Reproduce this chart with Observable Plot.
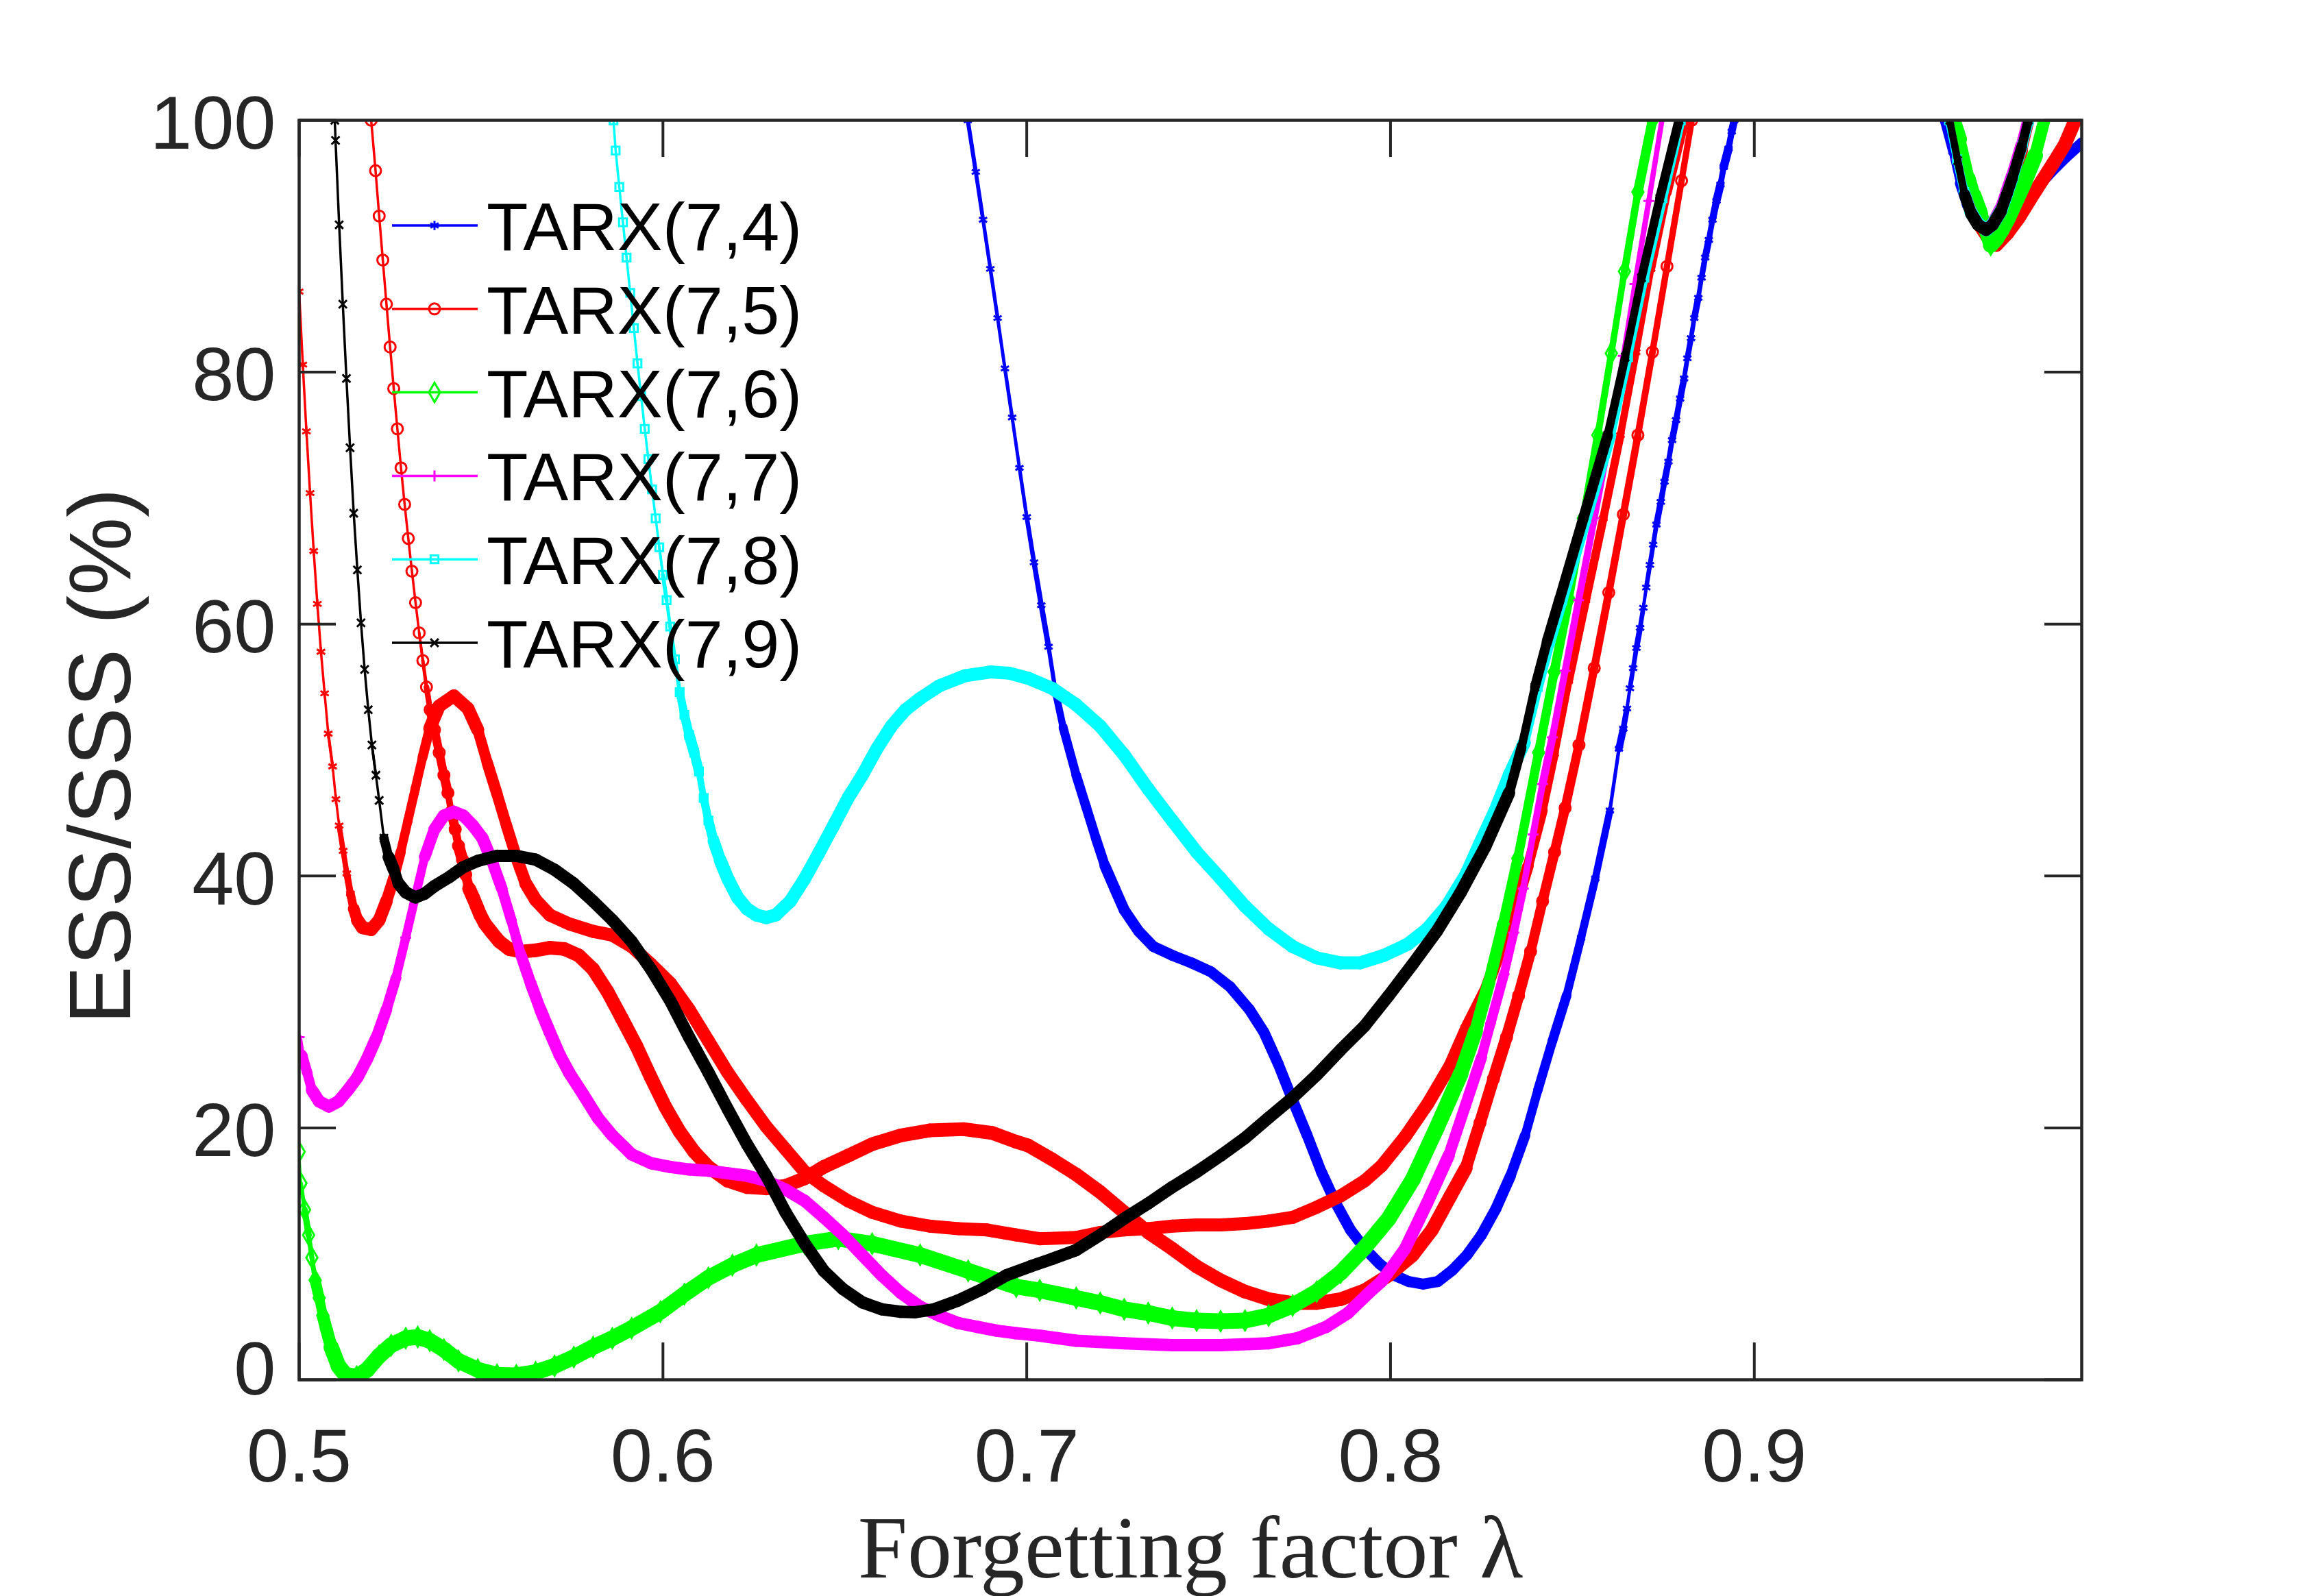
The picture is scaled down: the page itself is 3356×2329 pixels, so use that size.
<!DOCTYPE html>
<html>
<head>
<meta charset="utf-8">
<script src="https://cdn.jsdelivr.net/npm/d3@7"></script>
<script src="https://cdn.jsdelivr.net/npm/@observablehq/plot@0.6"></script>
<style>
html, body { margin: 0; padding: 0; background: #ffffff; }
#chart { width: 3356px; height: 2329px; }
</style>
</head>
<body>
<div id="chart"></div>
<script>
// ---------------- data: [λ, ESS/SSS %]; null = the curve leaves the axes (above 100 %) ----------------
const xTicks = [0.5, 0.6, 0.7, 0.8, 0.9];
const yTicks = [0, 20, 40, 60, 80, 100];

const tarx74 = [[0.6838,100],[0.686,95.9],[0.688,92.1],[0.690,88.2],[0.692,84.3],[0.694,80.3],[0.696,76.4],[0.698,72.4],[0.700,68.5],[0.702,64.9],[0.704,61.5],[0.706,58.2],[0.708,54.5],[0.710,51.8],[0.7136,48],[0.7163,45.5],[0.719,43],[0.7215,40.8],[0.7242,39],[0.7268,37.3],[0.7308,35.6],[0.7348,34.4],[0.740,33.7],[0.7453,33.1],[0.7506,32.4],[0.7559,31.2],[0.7612,29.4],[0.7652,27.6],[0.7691,25.1],[0.7731,22.2],[0.7771,19.4],[0.781,16.5],[0.785,14],[0.789,11.9],[0.793,10.4],[0.797,9.2],[0.801,8.3],[0.805,7.8],[0.809,7.6],[0.813,7.8],[0.817,8.7],[0.821,9.9],[0.825,11.5],[0.829,13.6],[0.833,16.2],[0.837,19.4],[0.8405,23],[0.8445,26.9],[0.8484,30.5],[0.8524,35.1],[0.8563,39.8],[0.8603,45.2],[0.8628,50.1],[0.864,51.7],[0.865,53.3],[0.8658,54.9],[0.8667,56.5],[0.8676,58.1],[0.8686,59.7],[0.8695,61.3],[0.8703,62.9],[0.8713,64.7],[0.8722,66.3],[0.8731,67.9],[0.8743,69.7],[0.8753,71.3],[0.8764,72.9],[0.8774,74.6],[0.8785,76.2],[0.8796,77.9],[0.8807,79.5],[0.8816,81.1],[0.8826,82.7],[0.8835,84.3],[0.8846,85.9],[0.8855,87.5],[0.8865,89.1],[0.8875,90.5],[0.8885,92.1],[0.8896,93.6],[0.8907,94.9],[0.8916,96.3],[0.8929,97.75],[0.8938,99.1],[0.8945,100],
  null,[0.9522,100],[0.9545,97.5],[0.9565,95],[0.9585,93.3],[0.9605,92.2],[0.963,91.3],[0.9655,90.7],[0.968,91.0],[0.9705,91.9],[0.9728,92.8],[0.9766,94.3],[0.9816,95.9],[0.9854,97.0],[0.99,98.2]];

const tarx75 = [[0.5198,100],[0.521,96],[0.522,92.4],[0.523,88.9],[0.524,85.4],[0.525,82],[0.526,78.7],[0.527,75.5],[0.528,72.4],[0.529,69.5],[0.530,66.8],[0.531,64.2],[0.532,61.7],[0.533,59.3],[0.534,57.1],[0.535,55],[0.536,53.2],[0.5372,51.6],[0.5385,49.8],[0.5398,48],[0.5409,46.6],[0.5418,45.1],[0.5429,43.7],[0.5438,42.4],[0.5449,41.3],[0.5458,40.1],[0.5467,39],[0.5478,38.3],[0.5488,37.6],[0.5498,36.9],[0.5511,36.2],[0.553,35.5],[0.555,34.8],[0.5577,34.2],[0.561,34.0],[0.565,34.1],[0.5689,34.3],[0.5729,34.2],[0.5768,33.7],[0.5808,32.6],[0.5848,30.8],[0.5887,28.7],[0.5927,26.5],[0.5967,24],[0.6006,21.7],[0.6046,19.7],[0.6086,18.1],[0.6125,16.9],[0.6178,15.8],[0.6231,15.3],[0.6284,15.2],[0.6337,15.4],[0.639,16],[0.6442,16.9],[0.6509,17.8],[0.6575,18.7],[0.6654,19.4],[0.6733,19.8],[0.6826,19.9],[0.6905,19.6],[0.6971,18.9],[0.7004,18.6],[0.707,17.5],[0.7136,16.3],[0.7202,14.9],[0.7268,13.3],[0.7334,11.7],[0.740,10.4],[0.7467,9.0],[0.7533,7.9],[0.760,7.0],[0.7665,6.4],[0.7731,6.1],[0.7797,6.1],[0.7863,6.4],[0.7929,7.1],[0.7995,8.3],[0.8061,9.9],[0.8114,11.9],[0.8165,14.6],[0.8207,16.8],[0.8246,20.4],[0.8283,23.9],[0.8319,27.2],[0.8352,30.5],[0.8385,34.0],[0.8418,38.0],[0.8451,41.9],[0.848,45.4],[0.8518,50.4],[0.856,56.5],[0.860,62.5],[0.864,68.7],[0.868,75.0],[0.872,81.6],[0.876,88.4],[0.880,95.2],[0.8828,100],
  null,[0.9542,100],[0.9562,97],[0.958,94.6],[0.9598,93],[0.9617,91.8],[0.964,90.8],[0.9665,90.1],[0.9695,91.0],[0.9728,92.3],[0.976,93.8],[0.9791,95.2],[0.9822,96.6],[0.9854,98.1],[0.9882,100]];

const tarx76 = [[0.500,18.1],[0.5005,15.6],[0.5015,13.5],[0.5026,11.5],[0.5035,9.7],[0.5044,7.9],[0.5055,6.5],[0.5065,5.1],[0.5075,4.0],[0.5088,2.6],[0.5108,1.1],[0.5127,0.4],[0.5158,0.25],[0.5187,0.8],[0.522,1.9],[0.5253,2.75],[0.5293,3.3],[0.5326,3.4],[0.5359,3.1],[0.5398,2.4],[0.5438,1.5],[0.5491,0.8],[0.5544,0.4],[0.5597,0.36],[0.565,0.6],[0.5702,1.1],[0.5755,1.8],[0.5808,2.6],[0.5861,3.3],[0.5914,4.1],[0.5993,5.4],[0.6059,6.8],[0.6125,8.1],[0.6191,9.1],[0.6257,9.9],[0.639,10.8],[0.6482,11.2],[0.6575,10.8],[0.6707,9.9],[0.6839,8.65],[0.6971,7.4],[0.7036,7.1],[0.7136,6.5],[0.7202,6.1],[0.7268,5.6],[0.7334,5.3],[0.740,4.9],[0.7467,4.7],[0.7533,4.65],[0.760,4.7],[0.7665,5.1],[0.7731,5.9],[0.7797,7.0],[0.7863,8.5],[0.7929,10.5],[0.7995,12.8],[0.8061,15.9],[0.8127,20.0],[0.8193,24.3],[0.8234,27.7],[0.827,31.5],[0.831,36.2],[0.835,41.4],[0.8407,49.8],[0.845,56.2],[0.849,62.0],[0.853,68.4],[0.857,75],[0.8607,81.5],[0.8643,88.0],[0.868,94.3],[0.872,100],
  null,[0.9548,100],[0.9565,98.5],[0.959,95.4],[0.9603,94.1],[0.9622,92.6],[0.9636,91.3],[0.965,90.1],[0.9665,90.6],[0.968,91.3],[0.9697,92.2],[0.9741,95.0],[0.9772,97.2],[0.9797,100]];

const tarx77 = [[0.500,27.2],[0.5008,25.8],[0.5022,24.4],[0.5035,23],[0.5055,22.1],[0.5082,21.7],[0.5108,22.1],[0.5134,23],[0.516,24],[0.5187,25.5],[0.5213,27.2],[0.524,29.4],[0.5266,31.9],[0.5293,35.1],[0.5319,38.3],[0.5345,41.5],[0.5372,43.7],[0.5398,44.8],[0.5425,45.1],[0.5451,44.8],[0.5478,44],[0.5504,43],[0.553,41.2],[0.5557,39],[0.5583,36.5],[0.561,33.7],[0.5636,31.5],[0.5663,29.4],[0.5689,27.6],[0.5716,25.8],[0.5742,24.4],[0.5782,22.6],[0.5821,20.8],[0.5861,19.4],[0.5914,17.9],[0.5967,17.2],[0.602,16.9],[0.6072,16.7],[0.6125,16.6],[0.6178,16.4],[0.6231,16.2],[0.6284,15.8],[0.6337,15.1],[0.639,14.2],[0.6442,12.9],[0.6495,11.5],[0.6548,9.9],[0.6601,8.3],[0.6654,6.9],[0.6707,5.8],[0.6759,5.1],[0.6812,4.5],[0.6865,4.2],[0.6918,3.9],[0.6971,3.7],[0.7036,3.5],[0.7136,3.1],[0.7268,2.9],[0.740,2.75],[0.7533,2.75],[0.7665,2.9],[0.7744,3.3],[0.7823,4.2],[0.7883,5.3],[0.794,6.9],[0.7975,7.8],[0.804,10.4],[0.810,14.0],[0.816,17.8],[0.8205,21.7],[0.825,25.6],[0.8275,28.3],[0.8312,32.2],[0.8339,35.5],[0.8365,39],[0.8392,43.3],[0.8418,47.3],[0.8445,51.0],[0.848,56.3],[0.8517,61.9],[0.856,68.4],[0.8603,75],[0.864,81.3],[0.8672,87.0],[0.871,93.6],[0.8746,100],
  null,[0.9536,100],[0.9557,96.9],[0.9577,94.3],[0.9595,92.8],[0.9614,91.8],[0.9636,91.3],[0.9655,91.8],[0.9677,93.0],[0.9693,94.4],[0.9707,95.6],[0.9732,98.0],[0.975,100]];

const tarx78 = [[0.5864,100],[0.587,97.6],[0.588,94.7],[0.589,91.9],[0.590,89.1],[0.591,86.3],[0.592,83.5],[0.593,80.7],[0.594,78.1],[0.595,75.5],[0.596,73.1],[0.597,70.7],[0.598,68.4],[0.599,66.1],[0.600,63.9],[0.601,61.9],[0.602,59.8],[0.6033,57.2],[0.6046,54.6],[0.6059,52.8],[0.6072,51.2],[0.6086,49.8],[0.6099,48.3],[0.6112,46.2],[0.6125,44.4],[0.6139,42.8],[0.6158,41.2],[0.6178,39.8],[0.6205,38.3],[0.6231,37.4],[0.6257,36.9],[0.6284,36.7],[0.631,36.9],[0.635,38],[0.639,39.8],[0.643,41.9],[0.6469,44],[0.6509,46.2],[0.6548,48],[0.6588,50.1],[0.6628,51.9],[0.6667,53.2],[0.6707,54.1],[0.676,55.1],[0.683,55.9],[0.690,56.2],[0.6952,56.1],[0.7004,55.7],[0.707,54.9],[0.7136,53.6],[0.7202,51.9],[0.7268,49.6],[0.7334,46.9],[0.740,44.4],[0.7467,41.9],[0.7533,39.8],[0.760,37.6],[0.7665,35.8],[0.7731,34.4],[0.7797,33.5],[0.7863,33.1],[0.7916,33.1],[0.7982,33.7],[0.8048,34.6],[0.8101,35.8],[0.8154,37.6],[0.8207,40.1],[0.8246,42.6],[0.8286,45.1],[0.8326,48],[0.8368,50.6],[0.8405,55],[0.8438,58.6],[0.8472,61.9],[0.8538,68.4],[0.8605,75],[0.8653,81.2],[0.8698,87.5],[0.8748,93.8],[0.8798,100],
  null,[0.9535,100],[0.9557,96.9],[0.9577,94.3],[0.9595,92.7],[0.9615,91.8],[0.9638,91.3],[0.9657,91.8],[0.968,92.9],[0.9697,94.3],[0.9711,95.5],[0.9737,98.0],[0.9755,100]];

const tarx79 = [[0.5098,100],[0.510,98.4],[0.511,91.7],[0.512,85.4],[0.513,79.5],[0.514,74],[0.515,68.8],[0.516,64.3],[0.517,60.1],[0.518,56.4],[0.519,53.2],[0.520,50.4],[0.5211,48],[0.522,46],[0.5233,43],[0.5246,41.5],[0.526,40.5],[0.5273,39.4],[0.5293,38.7],[0.5319,38.3],[0.5345,38.6],[0.5372,39.2],[0.5412,39.9],[0.5451,40.7],[0.5491,41.2],[0.5544,41.6],[0.5597,41.6],[0.565,41.3],[0.5702,40.5],[0.5755,39.4],[0.5808,38],[0.5861,36.5],[0.5914,34.8],[0.5967,32.6],[0.602,30.1],[0.6072,27.2],[0.6125,24.4],[0.6178,21.5],[0.6231,18.7],[0.6284,16.2],[0.6337,13.3],[0.639,10.8],[0.6442,8.65],[0.6495,7.2],[0.6548,6.15],[0.6601,5.6],[0.6654,5.4],[0.6693,5.36],[0.6746,5.6],[0.6812,6.3],[0.6878,7.2],[0.6944,8.3],[0.701,9.0],[0.707,9.6],[0.7136,10.3],[0.7202,11.5],[0.7268,12.8],[0.7334,14],[0.740,15.3],[0.7467,16.5],[0.7533,17.8],[0.760,19.2],[0.7665,20.8],[0.7731,22.4],[0.7797,24.2],[0.7863,26.2],[0.7929,28.1],[0.7995,30.5],[0.8061,33],[0.8127,35.6],[0.8193,38.7],[0.826,42.3],[0.8326,46.6],[0.836,50.2],[0.8397,55],[0.843,58.6],[0.8464,61.9],[0.853,68.4],[0.8597,75],[0.8645,81.2],[0.869,87.5],[0.874,93.8],[0.8793,100],
  null,[0.9537,100],[0.9559,96.8],[0.9578,94.1],[0.9596,92.6],[0.9615,91.7],[0.9637,91.3],[0.9655,91.7],[0.9678,92.8],[0.9695,94.2],[0.9709,95.4],[0.9735,97.9],[0.9753,100]];

// red asterisk curve (in the figure, not listed in its legend)
const tarxRedStar = [[0.500,86.4],[0.501,80.6],[0.502,75.3],[0.503,70.4],[0.504,65.8],[0.505,61.6],[0.506,57.8],[0.507,54.5],[0.508,51.3],[0.5092,48.7],[0.5101,46.1],[0.511,44],[0.5121,42],[0.5131,40.2],[0.5141,38.6],[0.515,37.4],[0.516,36.5],[0.5174,35.9],[0.5198,35.75],[0.522,36.5],[0.524,38],[0.526,39.8],[0.5279,41.9],[0.5299,44.4],[0.5319,46.9],[0.5339,49.4],[0.5359,51.7],[0.5385,53.5],[0.5425,54.3],[0.5464,53.3],[0.5491,51.6],[0.5517,49],[0.5544,46.5],[0.557,44],[0.5597,41.5],[0.5623,39.4],[0.565,38.1],[0.5689,36.9],[0.5742,36.2],[0.5808,35.6],[0.5861,35.3],[0.5914,34.4],[0.5967,33],[0.602,31.5],[0.6072,29.4],[0.6125,26.9],[0.6178,24.4],[0.6231,22.2],[0.6284,20.1],[0.6337,18.3],[0.639,16.5],[0.6442,15.4],[0.6509,14.2],[0.6575,13.3],[0.6654,12.6],[0.6733,12.2],[0.6812,12.0],[0.6891,11.9],[0.6971,11.5],[0.7036,11.2],[0.7136,11.3],[0.7202,11.7],[0.7268,11.9],[0.7334,12.0],[0.740,12.2],[0.7467,12.3],[0.7533,12.3],[0.760,12.4],[0.7665,12.6],[0.7731,12.9],[0.7797,13.7],[0.7863,14.6],[0.7929,15.8],[0.7976,17.0],[0.804,19.3],[0.8102,21.9],[0.8165,25.0],[0.8209,27.9],[0.826,30.8],[0.830,34],[0.834,37.3],[0.8378,40.8],[0.8418,45.2],[0.8451,49.7],[0.849,55.5],[0.8537,61.9],[0.8585,68.4],[0.8632,75],[0.8675,81.6],[0.8716,88.2],[0.876,94.3],[0.8808,100],
  null,[0.954,100],[0.9561,96.8],[0.958,94.2],[0.9598,92.7],[0.9617,91.8],[0.9638,91.3],[0.9657,91.6],[0.968,92.6],[0.9697,93.9],[0.9712,95.2],[0.9737,97.6],[0.9757,100]];

const legendNames = ["TARX(7,4)", "TARX(7,5)", "TARX(7,6)", "TARX(7,7)", "TARX(7,8)", "TARX(7,9)"];

// ---------------- styling ----------------
// band = width of the ribbon that MATLAB's per-sample markers form where the curve is flat
const series = [
  {name: "TARX(7,4)", data: tarx74, color: "#0000ff", symbol: "asterisk", r: 6.4, band: 16},
  {name: "TARX(7,5)", data: tarx75, color: "#ff0000", symbol: "circle",   r: 8.0, band: 20},
  {name: "TARX(7,6)", data: tarx76, color: "#00ff00", symbol: "diamond",  r: 8.6, band: 23},
  {name: "TARX(7,7)", data: tarx77, color: "#ff00ff", symbol: "plus",     r: 5.2, band: 18},
  {name: "TARX(7,8)", data: tarx78, color: "#00ffff", symbol: "square2",  r: 7.2, band: 19},
  {name: "TARX(7,9)", data: tarx79, color: "#000000", symbol: "times",    r: 5.4, band: 18},
  {name: null,        data: tarxRedStar, color: "#ff0000", symbol: "asterisk", r: 6.6, band: 19}
];
const drawOrder = [0, 6, 1, 2, 3, 4, 5];

const W = 3356, H = 2329;
const mL = 436, mR = 319, mT = 175, mB = 316;
const pw = W - mL - mR, ph = H - mT - mB;
const axisColor = "#262626";
const tickLen = 54;
const slopeFull = 700;   // |dESS/dλ| below which the markers merge into a full ribbon
const slopeThin = 2200;  // above this only the thin line and the markers remain
const sans = "Liberation Sans, Arial, Helvetica, sans-serif";
const serif = "Liberation Serif, Times New Roman, serif";

function toRows(data) {
  return data.map(p => p ? {lambda: p[0], ess: p[1]} : {lambda: NaN, ess: NaN});
}
// ribbon pieces between consecutive samples, narrowing as the markers spread apart
function ribbon(rows, band) {
  const out = [];
  for (let i = 0; i + 1 < rows.length; i++) {
    const a = rows[i], b = rows[i + 1];
    if (!isFinite(a.ess) || !isFinite(b.ess)) continue;
    const k = Math.abs((b.ess - a.ess) / (b.lambda - a.lambda));
    if (k >= slopeThin) continue;
    const f = k <= slopeFull ? 1 : 1 - 0.8 * (k - slopeFull) / (slopeThin - slopeFull);
    out.push({l1: a.lambda, e1: a.ess, l2: b.lambda, e2: b.ess, w: band * f});
  }
  return out;
}

const marks = [];
for (const k of drawOrder) {
  const s = series[k];
  const rows = toRows(s.data);
  marks.push(Plot.link(ribbon(rows, s.band), {x1: "l1", y1: "e1", x2: "l2", y2: "e2", stroke: s.color, strokeWidth: "w", strokeLinecap: "round", clip: true}));
  marks.push(Plot.line(rows, {x: "lambda", y: "ess", stroke: s.color, strokeWidth: 3.5, clip: true}));
  marks.push(Plot.dot(rows, {x: "lambda", y: "ess", symbol: s.symbol, r: s.r, stroke: s.color, fill: "none", strokeWidth: 3, clip: true}));
}

// inward ticks on all four sides (box on)
marks.push(Plot.tickX(xTicks, {x: d => d, stroke: axisColor, strokeWidth: 4, insetTop: ph - tickLen}));
marks.push(Plot.tickX(xTicks, {x: d => d, stroke: axisColor, strokeWidth: 4, insetBottom: ph - tickLen}));
marks.push(Plot.tickY(yTicks, {y: d => d, stroke: axisColor, strokeWidth: 4, insetRight: pw - tickLen}));
marks.push(Plot.tickY(yTicks, {y: d => d, stroke: axisColor, strokeWidth: 4, insetLeft: pw - tickLen}));
marks.push(Plot.frame({stroke: axisColor, strokeWidth: 4.5}));

marks.push(Plot.axisX({ticks: xTicks, tickSize: 0, tickPadding: 70, fontSize: 110, fill: axisColor, fontFamily: sans, tickFormat: d3.format(".1f"), label: null}));
marks.push(Plot.axisY({ticks: yTicks.filter(d => d > 0), tickSize: 0, tickPadding: 34, fontSize: 110, fill: axisColor, fontFamily: sans, dy: 6, tickFormat: d => String(d), label: null}));
marks.push(Plot.axisY({ticks: yTicks.filter(d => d === 0), tickSize: 0, tickPadding: 34, fontSize: 110, fill: axisColor, fontFamily: sans, dy: -14, tickFormat: d => String(d), label: null}));

marks.push(Plot.text(["Forgetting factor λ"], {text: d => d, frameAnchor: "bottom", textAnchor: "middle", dy: 288, lineAnchor: "bottom", fontSize: 130, fontFamily: serif, fill: axisColor}));
marks.push(Plot.text(["ESS/SSS (%)"], {text: d => d, frameAnchor: "left", textAnchor: "middle", rotate: -90, dx: -247, dy: 9, lineAnchor: "bottom", fontSize: 128, fontFamily: sans, fill: axisColor}));

const svg = Plot.plot({
  width: W, height: H,
  marginLeft: mL, marginRight: mR, marginTop: mT, marginBottom: mB,
  x: {domain: [0.5, 0.99], label: null},
  y: {domain: [0, 100], label: null},
  style: {background: "#ffffff", fontFamily: sans, overflow: "visible"},
  marks
});

// legend (inside the axes, no box)
const symbolTypes = {
  asterisk: d3.symbolAsterisk, circle: d3.symbolCircle, diamond: d3.symbolDiamond,
  plus: d3.symbolPlus, square2: d3.symbolSquare2, times: d3.symbolTimes
};
const lg = d3.select(svg).append("g").attr("class", "legend");
legendNames.forEach((name, i) => {
  const s = series.find(t => t.name === name);
  const cy = 329 + i * 121.8;
  lg.append("line").attr("x1", 572).attr("x2", 697).attr("y1", cy).attr("y2", cy)
    .attr("stroke", s.color).attr("stroke-width", 3.5);
  lg.append("path").attr("transform", `translate(634,${cy})`)
    .attr("d", d3.symbol(symbolTypes[s.symbol], Math.PI * s.r * s.r)())
    .attr("fill", "none").attr("stroke", s.color).attr("stroke-width", 3);
  lg.append("text").attr("x", 710).attr("y", cy + 36).attr("text-anchor", "start").text(name)
    .attr("font-size", 99).attr("font-family", sans).attr("fill", "#000000");
});

document.getElementById("chart").appendChild(svg);
</script>
</body>
</html>
